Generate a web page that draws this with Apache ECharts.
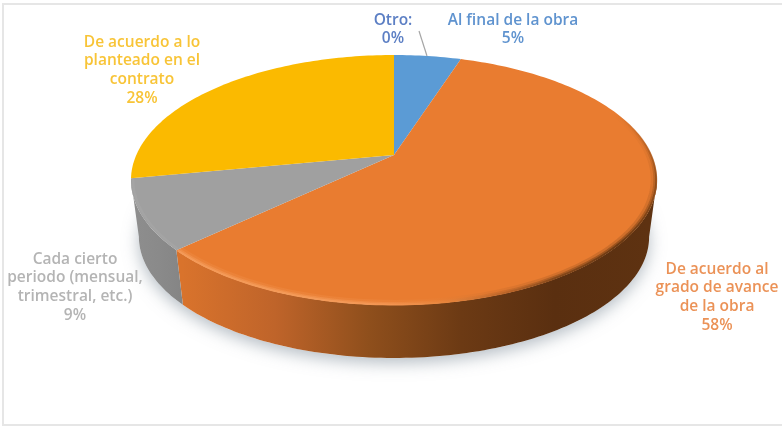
<!DOCTYPE html>
<html>
<head>
<meta charset="utf-8">
<style>html,body{margin:0;padding:0;background:#fff}#chart{width:782px;height:426px}</style>
<script src="https://cdn.jsdelivr.net/npm/echarts@6/dist/echarts.min.js"></script>
</head>
<body>
<div id="chart"></div>
<script>
// Payment moments, clockwise from twelve o'clock
const categories = ['Al final de la obra', 'De acuerdo al grado de avance de la obra', 'Cada cierto periodo (mensual, trimestral, etc.)', 'De acuerdo a lo planteado en el contrato', 'Otro:'];
const values = [5, 58, 9, 28, 0];
const faceColors = ['#5B9BD5', '#E97C30', '#A0A0A0', '#FBBA00', '#5B9BD5'];
const labelColors = ['#5F93CF', '#EB9257', '#B4B4B4', '#F8C437', '#5C7FC4'];
const labelLines = [
  ['Al final de la obra'],
  ['De acuerdo al', 'grado de avance', 'de la obra'],
  ['Cada cierto', 'periodo (mensual,', 'trimestral, etc.)'],
  ['De acuerdo a lo', 'planteado en el', 'contrato'],
  ['Otro:']
];
const labelAnchors = [[513, 11], [717, 260], [75, 250], [142, 33], [393, 11]];

// Perspective disc: a unit circle seen through a tilted projection
const CX = 394, CY = 155, AX = 257.7, AY = 120, TILT = 0.2;
const BASE_SCALE = 0.97, BASE_Y = 212.5;
const RIM_ANGLE = Math.acos(-TILT); // angle where the outline is widest
const BEVEL_START = Math.PI * 0.3; // the large slice's bevel fades in from here

function topPoint(a, r = 1) {
  const u = r * Math.sin(a), v = r * Math.cos(a), w = 1 + TILT * v;
  return [CX + AX * u / w, CY - AY * v / w];
}
function basePoint(a) {
  const u = Math.sin(a), v = Math.cos(a), w = 1 + TILT * v;
  return [CX + BASE_SCALE * AX * u / w, BASE_Y - BASE_SCALE * AY * v / w];
}
function arc(fn, from, to) {
  const n = Math.max(2, Math.ceil(Math.abs(to - from) / 0.02));
  const pts = [];
  for (let i = 0; i <= n; i++) pts.push(fn(from + (to - from) * i / n));
  return pts;
}
const total = values.reduce((s, v) => s + v, 0);
const spans = [];
values.reduce((acc, v) => {
  const next = acc + v;
  spans.push([acc / total * 2 * Math.PI, next / total * 2 * Math.PI]);
  return next;
}, 0);

const hGrad = (x0, x1, stops) => new echarts.graphic.LinearGradient(x0, 0, x1, 0,
  stops.map((c, i) => ({ offset: i / (stops.length - 1), color: c })), true);

const wallStops = {
  1: [[182, 648], ['#D9732C', '#BF642A', '#8F4F1C', '#6C3A14', '#5A2F10', '#5E3211']],
  2: [[132, 186], ['#8E8E8E', '#8A8A8A', '#848484']]
};

// Bevel on the orange face: runs diagonally from a dark, fading shoulder to a bright lip
const orangeBevel = () => new echarts.graphic.LinearGradient(620, 115, 545, 364, [
  { offset: 0, color: 'rgba(122,66,21,0)' },
  { offset: 0.2, color: 'rgba(122,66,21,0.65)' },
  { offset: 0.48, color: '#6B3912' },
  { offset: 0.67, color: '#85481A' },
  { offset: 0.79, color: '#C0682A' },
  { offset: 0.885, color: '#E8853C' },
  { offset: 0.95, color: '#F39450' },
  { offset: 1, color: '#F49A58' }
], true);

function renderSlice(params) {
  const i = params.dataIndex;
  const [a0, a1] = spans[i];
  const children = [];
  if (a1 > a0) {
    // front wall, only where the slice faces the viewer
    const f0 = Math.max(a0, RIM_ANGLE), f1 = Math.min(a1, 2 * Math.PI - RIM_ANGLE);
    const faces = f1 > f0 && wallStops[i];
    if (faces) {
      const [x, stops] = wallStops[i];
      children.push({
        type: 'polygon',
        shape: { points: arc(topPoint, f0, f1).concat(arc(basePoint, f1, f0)) },
        style: { fill: hGrad(x[0], x[1], stops) }
      });
    }
    children.push({
      type: 'polygon',
      shape: { points: [[CX, CY]].concat(arc(topPoint, a0, a1)) },
      style: { fill: faceColors[i] }
    });
    const band = (stroke, from, to, r, width, op) => children.push({
      type: 'polyline',
      shape: { points: arc(a => topPoint(a, r), from, to) },
      style: { stroke, lineWidth: width, fill: null, opacity: op }
    });
    if (i === 1) {
      band(orangeBevel(), BEVEL_START, a1 - 0.004, 0.986, 5, 0.22);
      band(orangeBevel(), BEVEL_START, a1 - 0.004, 0.992, 3, 0.5);
      band(orangeBevel(), BEVEL_START, a1 - 0.004, 0.997, 2, 1);
    } else if (i === 2) {
      band('#A7A7A7', a0 + 0.004, a1, 0.992, 2.5, 0.6);
    }
  }
  return { type: 'group', children };
}

function renderGroundShadow() {
  return {
    type: 'polygon',
    shape: { points: arc(basePoint, 0, 2 * Math.PI) },
    style: { fill: '#fff', shadowBlur: 16, shadowColor: 'rgba(110,125,140,0.5)', shadowOffsetX: 0, shadowOffsetY: 5 }
  };
}

function renderLabel(params) {
  const i = params.dataIndex;
  const lines = labelLines[i].concat(values[i] + '%');
  return {
    type: 'text',
    x: labelAnchors[i][0],
    y: labelAnchors[i][1],
    style: {
      text: lines.join('\n'),
      fill: labelColors[i],
      font: '600 15.5px "Open Sans", sans-serif',
      lineHeight: 18.6,
      align: 'center',
      verticalAlign: 'top'
    }
  };
}

const sliceData = categories.map((name, i) => ({ name, value: values[i] }));
const chart = echarts.init(document.getElementById('chart'), null, { renderer: 'canvas' });
chart.setOption({
  animation: false,
  backgroundColor: '#ffffff',
  graphic: [
    { type: 'rect', shape: { x: 3, y: 4, width: 800, height: 421 }, style: { fill: null, stroke: '#E6E6E6', lineWidth: 2 }, silent: true },
    { type: 'line', shape: { x1: 419, y1: 31, x2: 427, y2: 56 }, style: { stroke: '#A6A6A6', lineWidth: 1.2 }, z: 20, silent: true }
  ],
  series: [
    { type: 'custom', coordinateSystem: 'none', silent: true, z: 1, data: [0], renderItem: renderGroundShadow },
    { type: 'custom', coordinateSystem: 'none', silent: true, z: 2, data: sliceData, renderItem: renderSlice },
    { type: 'custom', coordinateSystem: 'none', silent: true, z: 3, data: sliceData, renderItem: renderLabel }
  ]
});
</script>
</body>
</html>
